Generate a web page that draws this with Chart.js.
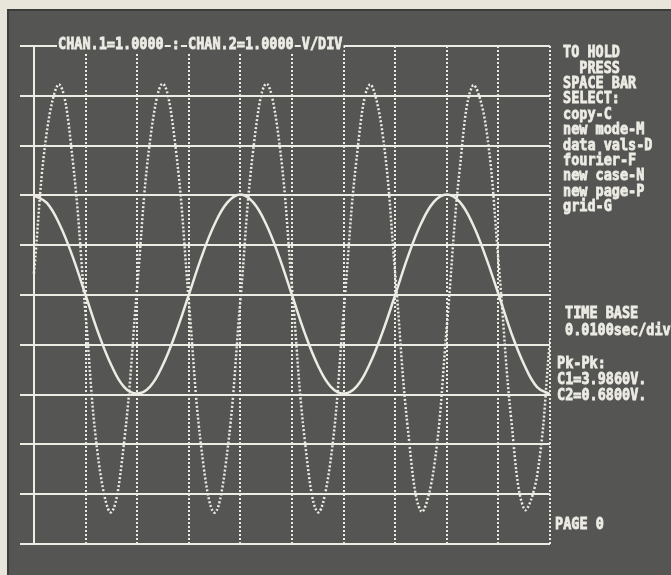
<!DOCTYPE html>
<html>
<head>
<meta charset="utf-8">
<script src="https://cdn.jsdelivr.net/npm/chart.js@4/dist/chart.umd.min.js"></script>
<style>
  html, body { margin: 0; padding: 0; background: #e8e5da; }
  #wrap { position: relative; width: 671px; height: 575px; }
  canvas { display: block; }
</style>
</head>
<body>
<div id="wrap"><canvas id="c" width="671" height="575"></canvas></div>
<script>
// ---- data (time in seconds, amplitude in divisions / volts) ----
const timeSec = [0, 0.0025, 0.005, 0.0075, 0.01, 0.0125, 0.015, 0.0175, 0.02, 0.0225,
  0.025, 0.0275, 0.03, 0.0325, 0.035, 0.0375, 0.04, 0.0425, 0.045, 0.0475,
  0.05, 0.0525, 0.055, 0.0575, 0.06, 0.0625, 0.065, 0.0675, 0.07, 0.0725,
  0.075, 0.0775, 0.08, 0.0825, 0.085, 0.0875, 0.09, 0.0925, 0.095, 0.0975, 0.1];

const ch1Volts = [0.43, 3.28, 4.22, 2.72, -0.38, -3.31, -4.36, -2.93, 0.16, 3.10,
  4.24, 2.92, -0.11, -3.13, -4.37, -3.12, -0.11, 2.92, 4.24, 3.10,
  0.16, -2.93, -4.36, -3.31, -0.38, 2.72, 4.22, 3.28, 0.43, -2.73,
  -4.34, -3.48, -0.64, 2.52, 4.20, 3.44, 0.70, -2.51, -4.30, -3.63, -0.91];

const ch2Volts = [2.00, 1.85, 1.41, 0.77, 0.00, -0.77, -1.41, -1.85, -1.98, -1.84,
  -1.40, -0.76, 0.00, 0.77, 1.42, 1.86, 2.02, 1.86, 1.42, 0.77,
  0.00, -0.77, -1.41, -1.84, -1.98, -1.84, -1.40, -0.76, 0.00, 0.78,
  1.43, 1.87, 2.02, 1.87, 1.43, 0.78, 0.02, -0.76, -1.40, -1.85, -1.99];

const xGridTicks = [0.01, 0.02, 0.03, 0.04, 0.05, 0.06, 0.07, 0.08, 0.09, 0.1];
const xStartTick = [0];

const headerText = 'CHAN.1=1.0000 : CHAN.2=1.0000 V/DIV';
const menuLines = ['TO HOLD', '  PRESS', 'SPACE BAR', 'SELECT:', 'copy-C', 'new mode-M',
  'data vals-D', 'fourier-F', 'new case-N', 'new page-P', 'grid-G'];
const timeBaseLines = ['TIME BASE', '0.0100sec/div'];
const pkLines = ['Pk-Pk:', 'C1=3.9860V.', 'C2=0.6800V.'];
const pageLabel = 'PAGE 0';

// ---- styling ----
const SCREEN = '#555553';
const PHOS = '#ecebe4';
const FONT = 'bold 13.5px "DejaVu Sans Mono", "Liberation Mono", monospace';

const ch1Points = timeSec.map((t, i) => ({ x: t, y: ch1Volts[i] }));
const ch2Points = timeSec.map((t, i) => ({ x: t, y: ch2Volts[i] }));

function phosText(ctx, s, x, y) {
  ctx.save();
  ctx.translate(x, y);
  ctx.scale(1, 1.22);
  ctx.strokeText(s, 0, 0);
  ctx.fillText(s, 0, 0);
  ctx.restore();
}

const screenPlugin = {
  id: 'screen',
  beforeDraw(chart) {
    const ctx = chart.ctx;
    ctx.save();
    ctx.fillStyle = '#e8e5da';
    ctx.fillRect(0, 0, chart.width, chart.height);
    ctx.fillStyle = SCREEN;
    ctx.fillRect(8, 10, chart.width - 8, chart.height - 10);
    ctx.fillStyle = '#3d3d3b';
    ctx.fillRect(7, 10, 2, chart.height - 10);
    ctx.fillRect(7, 9, chart.width - 7, 2);
    ctx.restore();
  },
  afterDraw(chart) {
    const ctx = chart.ctx;
    ctx.save();
    ctx.font = FONT;
    ctx.textBaseline = 'middle';
    ctx.textAlign = 'left';
    ctx.strokeStyle = PHOS;
    ctx.lineWidth = 0.7;
    // header over the top grid line
    let hx = 58;
    const hy = 45;
    const words = headerText.split(' ');
    const spaceW = ctx.measureText(' ').width;
    words.forEach((w) => {
      const ww = ctx.measureText(w).width;
      ctx.fillStyle = SCREEN;
      ctx.fillRect(hx - 1, hy - 7, ww + 2, 14);
      ctx.fillStyle = PHOS;
      phosText(ctx, w, hx, hy);
      hx += ww + spaceW;
    });
    ctx.fillStyle = PHOS;
    menuLines.forEach((s, i) => phosText(ctx, s, 563, 53 + i * 15.4));
    timeBaseLines.forEach((s, i) => phosText(ctx, s, 565, 314 + i * 17));
    pkLines.forEach((s, i) => phosText(ctx, s, 557, 364 + i * 16));
    phosText(ctx, pageLabel, 555, 525);
    ctx.restore();
  }
};

new Chart(document.getElementById('c'), {
  type: 'line',
  data: {
    datasets: [
      {
        label: 'CHAN.1',
        data: ch1Points,
        borderColor: PHOS,
        borderWidth: 2.5,
        borderDash: [2, 2],
        pointRadius: 0,
        tension: 0.4,
        fill: false
      },
      {
        label: 'CHAN.2',
        data: ch2Points,
        borderColor: PHOS,
        borderWidth: 2.5,
        pointRadius: 0,
        tension: 0.4,
        fill: false
      }
    ]
  },
  options: {
    responsive: false,
    animation: false,
    events: [],
    layout: { padding: { left: 20, right: 121, top: 46, bottom: 31 } },
    plugins: { legend: { display: false }, title: { display: false }, tooltip: { enabled: false } },
    scales: {
      x: {
        type: 'linear',
        min: -0.0027,
        max: 0.1,
        afterBuildTicks: (s) => { s.ticks = xStartTick.map(v => ({ value: v })); },
        ticks: { display: false },
        border: { display: false },
        grid: { color: PHOS, lineWidth: 2, drawTicks: false }
      },
      x2: {
        type: 'linear',
        position: 'bottom',
        min: -0.0027,
        max: 0.1,
        afterBuildTicks: (s) => { s.ticks = xGridTicks.map(v => ({ value: v })); },
        ticks: { display: false },
        border: { display: false, dash: [2, 2] },
        grid: { color: PHOS, lineWidth: 2, drawTicks: false }
      },
      y: {
        type: 'linear',
        min: -5,
        max: 5,
        ticks: { display: false, stepSize: 1 },
        border: { display: false },
        grid: { color: PHOS, lineWidth: 2, drawTicks: false }
      }
    }
  },
  plugins: [screenPlugin]
});
</script>
</body>
</html>
